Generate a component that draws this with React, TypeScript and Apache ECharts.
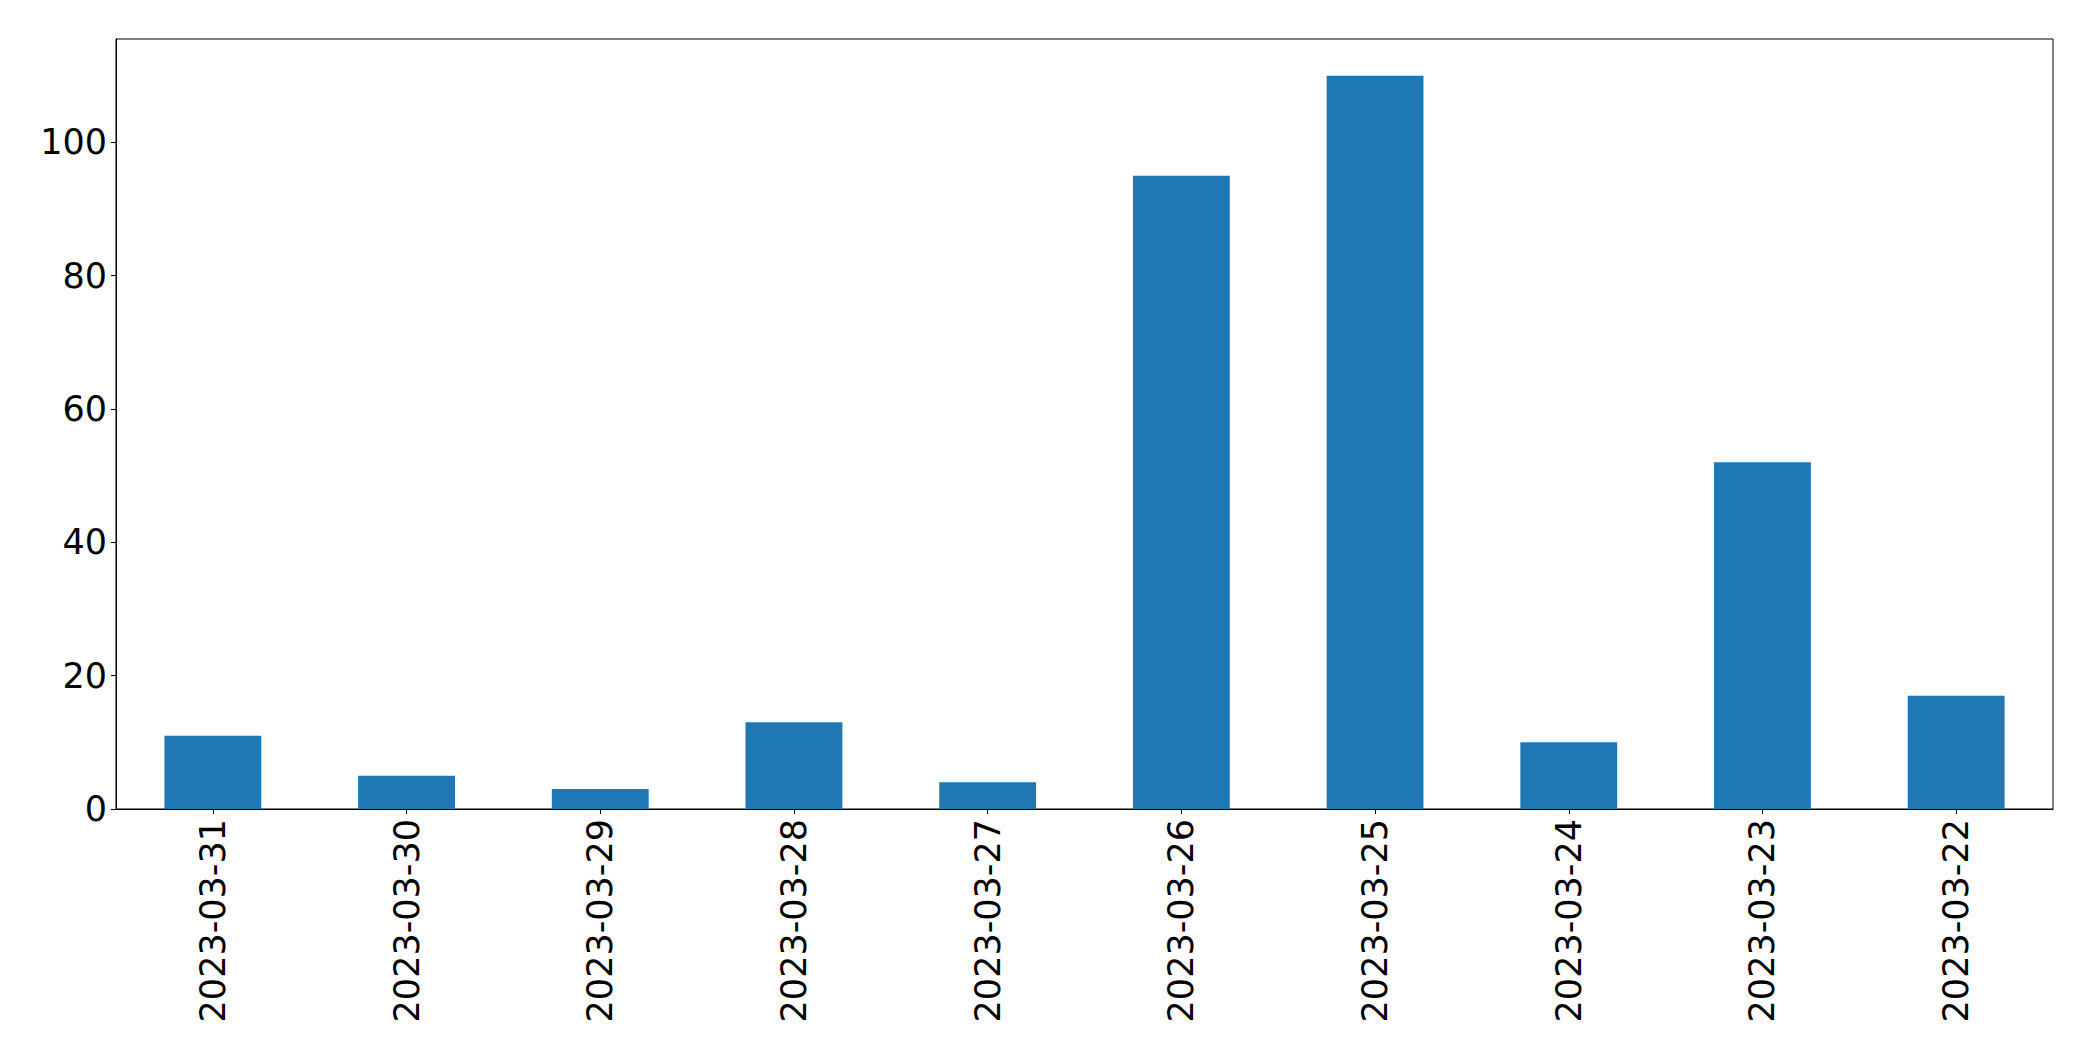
import React, { useEffect, useRef } from "react";
import * as echarts from "echarts";

const categories = [
  "2023-03-31", "2023-03-30", "2023-03-29", "2023-03-28", "2023-03-27",
  "2023-03-26", "2023-03-25", "2023-03-24", "2023-03-23", "2023-03-22",
];
const values = [11, 5, 3, 13, 4, 95, 110, 10, 52, 17];
const yTicks = [0, 20, 40, 60, 80, 100];

export default function App() {
  const ref = useRef<HTMLDivElement>(null);
  useEffect(() => {
    if (!ref.current) return;
    const chart = echarts.init(ref.current, null, { renderer: "svg" });
    const font = "DejaVu Sans";
    chart.setOption({
      animation: false,
      backgroundColor: "#ffffff",
      grid: {
        left: 116, right: 40, top: 39, bottom: 252,
        show: true, borderColor: "#000000", borderWidth: 1, containLabel: false,
      },
      xAxis: {
        type: "category",
        data: categories,
        boundaryGap: true,
        axisLine: { show: true, lineStyle: { color: "#000000", width: 1 } },
        axisTick: { show: true, alignWithLabel: true, length: 5, lineStyle: { color: "#000000", width: 1 } },
        axisLabel: {
          rotate: 90, fontSize: 35, fontFamily: font, color: "#000000", margin: 10, interval: 0,
        },
        splitLine: { show: false },
      },
      yAxis: {
        type: "value",
        min: 0,
        max: 115.5,
        interval: 20,
        axisLine: { show: true, lineStyle: { color: "#000000", width: 1 } },
        axisTick: { show: true, length: 5, lineStyle: { color: "#000000", width: 1 }, customValues: yTicks },
        axisLabel: { fontSize: 35, fontFamily: font, color: "#000000", margin: 9, customValues: yTicks },
        splitLine: { show: false },
      },
      series: [
        {
          type: "bar",
          data: values,
          barWidth: "50%",
          itemStyle: { color: "#1f77b4" },
        },
      ],
    });
    return () => chart.dispose();
  }, []);
  return (
    <div
      ref={ref}
      style={{ position: "fixed", left: 0, top: 0, width: "2093px", height: "1061px", background: "#fff" }}
    />
  );
}
